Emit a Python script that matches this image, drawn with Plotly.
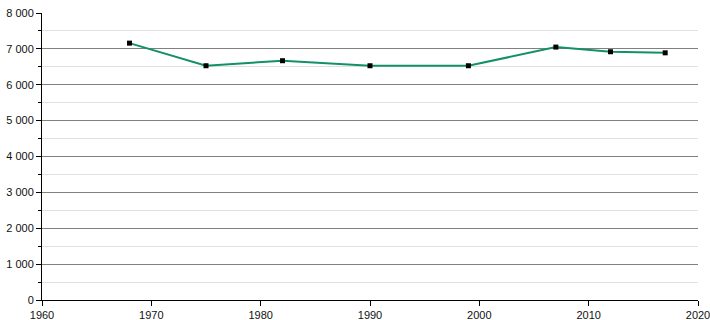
import plotly.graph_objects as go

years = [1968, 1975, 1982, 1990, 1999, 2007, 2012, 2017]
population = [7160, 6530, 6670, 6530, 6530, 7050, 6920, 6890]
y_tick_vals = [0, 1000, 2000, 3000, 4000, 5000, 6000, 7000, 8000]
y_tick_text = ["0", "1 000", "2 000", "3 000", "4 000", "5 000", "6 000", "7 000", "8 000"]
x_tick_vals = [1960, 1970, 1980, 1990, 2000, 2010, 2020]

fig = go.Figure()
fig.add_trace(go.Scatter(
    x=years, y=population, mode="lines+markers",
    line=dict(color="#12906a", width=2),
    marker=dict(symbol="square", size=5, color="black"),
    hoverinfo="x+y", cliponaxis=False,
))

fig.update_layout(
    width=710, height=320,
    margin=dict(l=42, r=12, t=13, b=20),
    paper_bgcolor="white", plot_bgcolor="white",
    showlegend=False,
    font=dict(family="Liberation Sans, Arial, sans-serif", size=11, color="#111"),
    xaxis=dict(
        range=[1960, 2020], tickvals=x_tick_vals,
        showgrid=False, zeroline=False, automargin=False,
        ticklabeloverflow="allow",
        showline=True, linecolor="black", linewidth=1,
        ticks="outside", ticklen=5, tickcolor="black",
    ),
    yaxis=dict(
        range=[0, 8000], tickvals=y_tick_vals, ticktext=y_tick_text,
        showgrid=True, gridcolor="#808080", gridwidth=1,
        zeroline=False, automargin=False,
        ticklabeloverflow="allow",
        showline=True, linecolor="black", linewidth=1,
        ticks="outside", ticklen=5, tickcolor="black",
        minor=dict(dtick=500, showgrid=True, gridcolor="#e0e0e0",
                   ticks="outside", ticklen=3, tickcolor="black"),
    ),
)

fig.write_html("out.html")
